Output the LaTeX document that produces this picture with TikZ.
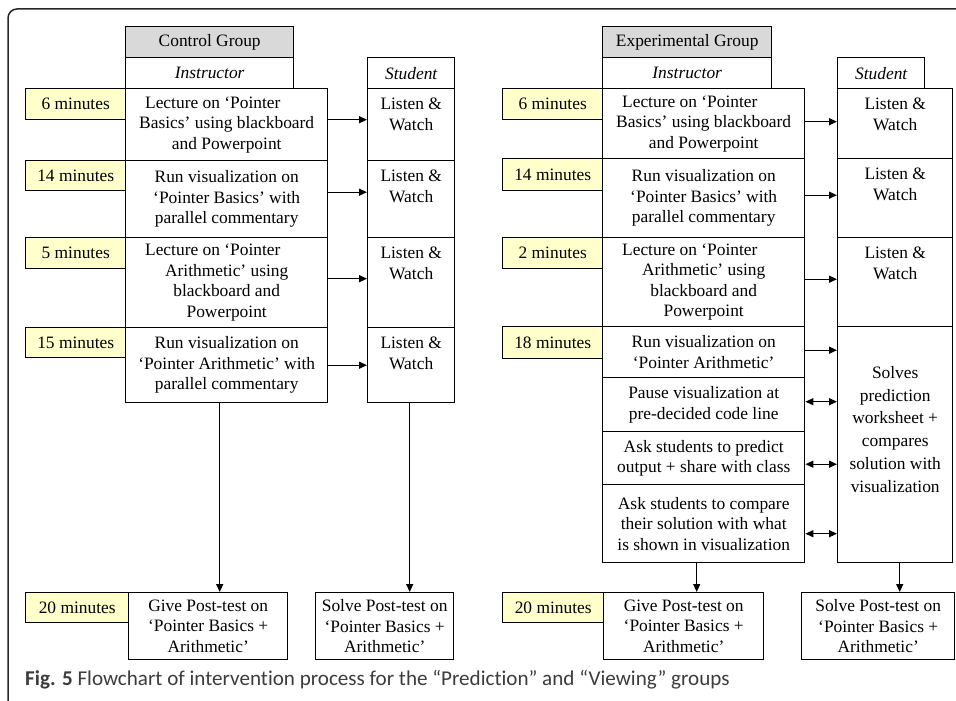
\documentclass[tikz,border=0pt]{standalone}
\usepackage{fontspec}
\setmainfont{Liberation Serif}
\newfontfamily\capfont[Ligatures=NoCommon]{Carlito}
\usetikzlibrary{arrows.meta}
\usetikzlibrary{positioning}
\usepackage{xcolor}

\definecolor{minyellow}{RGB}{255,255,204}
\definecolor{headgrey}{RGB}{217,217,217}
\definecolor{capgrey}{RGB}{60,60,60}

\tikzset{
  box/.style={draw, line width=1.4pt, align=center, inner sep=0pt, anchor=north west},
  mins/.style={box, fill=minyellow, minimum width=100, minimum height=31},
  head/.style={box, fill=headgrey, minimum height=31},
  role/.style={box, minimum height=31, font=\fontsize{17.4}{20.5}\selectfont\itshape},
  stud/.style={box, label={[align=center, anchor=north, inner sep=0pt, yshift=-10pt]north:{#1}}},
  flow/.style={line width=1.3pt, -{Triangle[length=8pt,width=7pt]}},
  both/.style={line width=1.3pt, {Triangle[length=8pt,width=7pt]}-{Triangle[length=8pt,width=7pt]}}
}

\begin{document}
\begin{tikzpicture}[x=1pt, y=-1pt, font=\fontsize{17.4}{20.5}\selectfont]
\useasboundingbox (0,0) rectangle (956,701);
\draw[line width=1.5pt, rounded corners=9, black!85] (8,701) -- (8,9) -- (956,9);

% control group
\node[head, minimum width=168] (chead) at (125,26) {Control Group};
\node[role, minimum width=168] (cins) at (125,57) {Instructor};
\node[role, minimum width=87] (cstu) at (367,57) {Student};

\node[mins] (cm1) at (25,88) {6 minutes};
\node[mins, minimum height=30] (cm2) at (25,160) {14 minutes};
\node[mins] (cm3) at (25,237) {5 minutes};
\node[mins, minimum height=30] (cm4) at (25,327) {15 minutes};

\node[box, minimum width=202, minimum height=72] (cr1) at (125,88) {Lecture on ‘Pointer\hspace*{1.6em}\\Basics’ using blackboard\\and Powerpoint};
\node[box, minimum width=202, minimum height=77] (cr2) at (125,160) {Run visualization on\\‘Pointer Basics’ with\\parallel commentary};
\node[box, minimum width=202, minimum height=90] (cr3) at (125,237) {Lecture on ‘Pointer\hspace*{1.6em}\\Arithmetic’ using\\blackboard and\\Powerpoint};
\node[box, minimum width=202, minimum height=75] (cr4) at (125,327) {Run visualization on\\‘Pointer Arithmetic’ with\\parallel commentary};

\node[stud={Listen \&\\Watch}, minimum width=87, minimum height=72] (cs1) at (367,88) {};
\node[stud={Listen \&\\Watch}, minimum width=87, minimum height=77] (cs2) at (367,160) {};
\node[stud={Listen \&\\Watch}, minimum width=87, minimum height=90] (cs3) at (367,237) {};
\node[stud={Listen \&\\Watch}, minimum width=87, minimum height=75] (cs4) at (367,327) {};

\node[mins, minimum width=103, minimum height=30] (cm5) at (25,592) {20 minutes};
\node[box, minimum width=159, minimum height=67] (cgive) at (128,592) {Give Post-test on\\‘Pointer Basics +\\Arithmetic’};
\node[box, minimum width=138, minimum height=67] (csolve) at (315,592) {Solve Post-test on\\‘Pointer Basics +\\Arithmetic’};

\foreach \r/\s/\d in {cr1/cs1/5, cr2/cs2/7, cr3/cs3/4, cr4/cs4/0}
  \draw[flow] ([yshift=\d]\r.east) -- ([yshift=\d]\s.west);
\draw[flow] ([xshift=-7]cr4.south) -- ([xshift=-7]cr4.south |- cgive.north);
\draw[flow] ([xshift=-1.5]cs4.south) -- ([xshift=-1.5]cs4.south |- csolve.north);

% experimental group
\node[head, minimum width=169] (ehead) at (602,26) {Experimental Group};
\node[role, minimum width=169] (eins) at (602,57) {Instructor};
\node[role, minimum width=87] (estu) at (837,57) {Student};

\node[mins, minimum height=31] (em1) at (502,88) {6 minutes};
\node[mins, minimum height=32] (em2) at (502,158) {14 minutes};
\node[mins, minimum height=31] (em3) at (502,237) {2 minutes};
\node[mins, minimum height=32] (em4) at (502,326) {18 minutes};

\node[box, minimum width=202, minimum height=70] (er1) at (602,88) {Lecture on ‘Pointer\hspace*{1.6em}\\Basics’ using blackboard\\and Powerpoint};
\node[box, minimum width=202, minimum height=79] (er2) at (602,158) {Run visualization on\\‘Pointer Basics’ with\\parallel commentary};
\node[box, minimum width=202, minimum height=89] (er3) at (602,237) {Lecture on ‘Pointer\hspace*{1.6em}\\Arithmetic’ using\\blackboard and\\Powerpoint};
\node[box, minimum width=202, minimum height=51] (er4) at (602,326) {Run visualization on\\‘Pointer Arithmetic’};
\node[box, minimum width=202, minimum height=54] (er5) at (602,377) {Pause visualization at\\pre-decided code line};
\node[box, minimum width=202, minimum height=53] (er6) at (602,431) {Ask students to predict\\output + share with class};
\node[box, minimum width=202, minimum height=78] (er7) at (602,484) {Ask students to compare\\their solution with what\\is shown in visualization};

\node[stud={Listen \&\\Watch}, minimum width=115, minimum height=70] (es1) at (837,88) {};
\node[stud={Listen \&\\Watch}, minimum width=115, minimum height=79] (es2) at (837,158) {};
\node[stud={Listen \&\\Watch}, minimum width=115, minimum height=89] (es3) at (837,237) {};
\node[box, minimum width=115, minimum height=236, font=\fontsize{17.4}{22.8}\selectfont] (es4) at (837,326) {Solves\\prediction\\worksheet +\\compares\\solution with\\visualization\\[8pt]};

\node[mins, minimum width=101, minimum height=30] (em5) at (502,592) {20 minutes};
\node[box, minimum width=160, minimum height=67] (egive) at (603,592) {Give Post-test on\\‘Pointer Basics +\\Arithmetic’};
\node[box, minimum width=153, minimum height=67] (esolve) at (801,592) {Solve Post-test on\\‘Pointer Basics +\\Arithmetic’};

\foreach \r/\s/\d in {er1/es1/2, er2/es2/3, er3/es3/3, er4/es4/2}
  \draw[flow] ([yshift=\d]\r.east) -- ([yshift=\d]\r.east -| \s.west);
\foreach \r/\d in {er5/3, er6/-6, er7/-10}
  \draw[both] ([yshift=\d]\r.east) -- ([yshift=\d]\r.east -| es4.west);
\draw[flow] ([xshift=-7]er7.south) -- ([xshift=-7]er7.south |- egive.north);
\draw[flow] ([xshift=4.5]es4.south) -- ([xshift=4.5]es4.south |- esolve.north);

\node[anchor=base west, inner sep=0pt, text=capgrey, font=\capfont\fontsize{21.1}{24}\selectfont] (cap) at (25,685) {\textbf{Fig. 5} Flowchart of intervention process for the “Prediction” and “Viewing” groups};
\end{tikzpicture}
\end{document}
